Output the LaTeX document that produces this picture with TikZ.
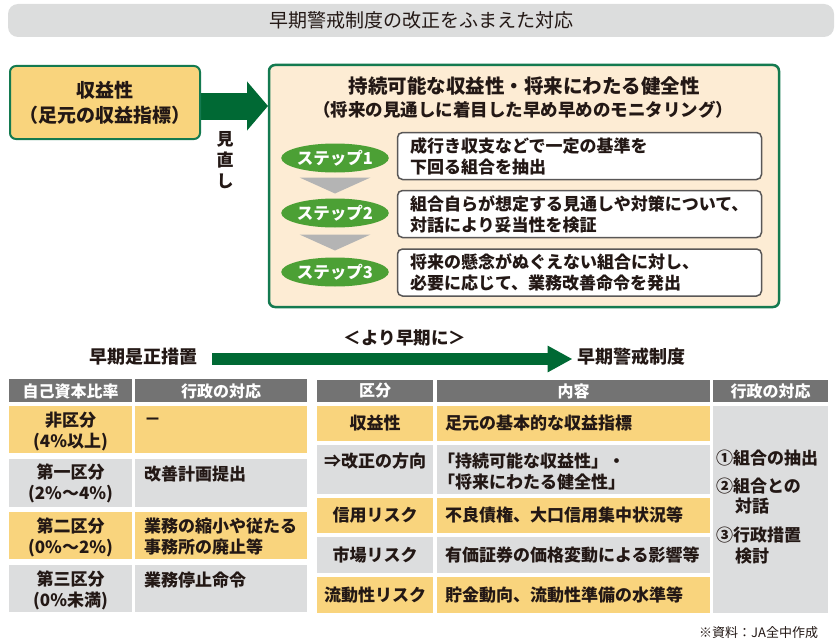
\documentclass[tikz,border=0pt]{standalone}
\usepackage{fontspec}
\setmainfont{Noto Sans CJK JP}
\newfontfamily\jpm{Noto Sans CJK JP}
\usetikzlibrary{shapes.geometric,arrows.meta,calc}
\definecolor{ink}{RGB}{35,24,21}
\definecolor{titlegray}{RGB}{220,221,221}
\definecolor{orangefill}{RGB}{249,212,125}
\definecolor{lgray}{RGB}{220,221,222}
\definecolor{hdrgray}{RGB}{115,115,115}
\definecolor{dgreen}{RGB}{0,105,52}
\definecolor{bgreen}{RGB}{20,122,80}
\definecolor{peach}{RGB}{253,236,212}
\definecolor{stepgreen}{RGB}{76,160,53}
\definecolor{trigray}{RGB}{180,180,180}
\definecolor{boxline}{RGB}{89,87,87}
\begin{document}
\begin{tikzpicture}[x=1pt,y=-1pt,
  every node/.style={inner sep=0pt, outer sep=0pt, text=ink},
  txt/.style={font=\jpm\bfseries\fontsize{17}{21}\selectfont},
  txtb/.style={font=\jpm\bfseries\fontsize{19}{25}\selectfont},
  hdr/.style={font=\jpm\bfseries\fontsize{16}{20}\selectfont, text=white},
  lboxs/.style={draw=bgreen, line width=2pt, fill=orangefill, rounded corners=6pt, minimum width=190pt, minimum height=73pt},
  rboxs/.style={draw=bgreen, line width=2.5pt, fill=peach, rounded corners=6pt, minimum width=510pt, minimum height=242pt},
  tbox/.style={draw=boxline, line width=1.5pt, fill=white, rounded corners=5pt, minimum width=364pt, minimum height=47pt},
  stepell/.style={ellipse, fill=stepgreen, minimum width=105pt, minimum height=29pt, text=white, font=\jpm\bfseries\fontsize{16.5}{16.5}\selectfont},
  bigarrow/.style={dgreen, line width=27pt, -{Triangle[length=21pt,width=48pt]}},
  midarrow/.style={dgreen, line width=12pt, -{Triangle[length=25pt,width=25pt]}}
]
\useasboundingbox (0,0) rectangle (840,642);
% title bar
\node[fill=titlegray, rounded corners=10pt, minimum width=826pt, minimum height=33pt] (titlebar) at (421,20.5) {};
\node[font=\fontsize{19}{19}\selectfont] (title) at (titlebar.center) {早期警戒制度の改正をふまえた対応};

% big arrow
\coordinate (a0) at (201,106);
\coordinate (a1) at (268,106);
\draw[bigarrow] (a0) -- (a1);

% left box
\node[lboxs] (lbox) at (105,102.5) {};
\node[txtb, align=center] (lboxt) at (lbox.center) {収益性\\（足元の収益指標）};
\node[font=\jpm\bfseries\fontsize{17}{21}\selectfont, align=center] (review) at (225,160) {見\\直\\し};

% right box
\node[rboxs] (rbox) at (524,186) {};
\node[font=\jpm\bfseries\fontsize{19.5}{19.5}\selectfont] (rt1) at (524,86) {持続可能な収益性・将来にわたる健全性};
\node[font=\jpm\bfseries\fontsize{17.5}{17.5}\selectfont] (rt2) at (523,110) {（将来の見通しに着目した早め早めのモニタリング）};

% steps
\node[stepell] (s1) at (335,158) {ステップ1};
\node[stepell] (s2) at (335,213) {ステップ2};
\node[stepell] (s3) at (335,272) {ステップ3};
\coordinate (m1) at ($(s1.south)!0.5!(s2.north)$);
\coordinate (m2) at ($(s2.south)!0.5!(s3.north)$);
\fill[trigray] ($(m1)+(-35.5,-8)$) -- ($(m1)+(35.5,-8)$) -- ($(m1)+(0,8)$) -- cycle;
\fill[trigray] ($(m2)+(-35.5,-8)$) -- ($(m2)+(35.5,-8)$) -- ($(m2)+(0,8)$) -- cycle;

\node[tbox] (b1) at (579.5,156) {};
\node[tbox] (b2) at (579.5,214) {};
\node[tbox] (b3) at (579.5,272.5) {};
\node[txt, align=left, anchor=west] (b1t) at (410,156) {成行き収支などで一定の基準を\\下回る組合を抽出};
\node[txt, align=left, anchor=west] (b2t) at (410,214) {組合自らが想定する見通しや対策について、\\対話により妥当性を検証};
\node[txt, align=left, anchor=west] (b3t) at (410,272.5) {将来の懸念がぬぐえない組合に対し、\\必要に応じて、業務改善命令を発出};

% middle arrow
\node[font=\jpm\bfseries\fontsize{18}{18}\selectfont] (early) at (143,357) {早期是正措置};
\node[font=\jpm\bfseries\fontsize{18}{18}\selectfont] (warn) at (631.5,357) {早期警戒制度};
\node[font=\jpm\bfseries\fontsize{17.5}{18}\selectfont] (sooner) at (405,338) {＜より早期に＞};
\draw[midarrow] ([xshift=15pt,yshift=-2pt]early.east) -- ([xshift=-5pt,yshift=-2pt]warn.west);

% left table
\fill[hdrgray] (9,379) rectangle (132,402);
\fill[hdrgray] (135,379) rectangle (307,402);
\node[hdr] (lh1) at (70.5,391) {自己資本比率};
\node[hdr] (lh2) at (221,391) {行政の対応};
\fill[orangefill] (9,406) rectangle (132,453);
\fill[orangefill] (135,406) rectangle (307,453);
\fill[lgray] (9,459) rectangle (132,507);
\fill[lgray] (135,459) rectangle (307,507);
\fill[orangefill] (9,512) rectangle (132,559);
\fill[orangefill] (135,512) rectangle (307,559);
\fill[lgray] (9,565) rectangle (132,612);
\fill[lgray] (135,565) rectangle (307,612);
\node[txt, align=center] (l11) at (70.5,431.5) {非区分\\(4\%以上)};
\node[txt, anchor=west] (l12) at (144,422) {－};
\node[txt, align=center] (l21) at (70.5,483.5) {第一区分\\(2\%～4\%)};
\node[txt, anchor=west] (l22) at (144,474) {改善計画提出};
\node[txt, align=center] (l31) at (70.5,537) {第二区分\\(0\%～2\%)};
\node[txt, align=left, anchor=west] (l32) at (144,537) {業務の縮小や従たる\\事務所の廃止等};
\node[txt, align=center] (l41) at (70.5,590) {第三区分\\(0\%未満)};
\node[txt, anchor=west] (l42) at (144,580) {業務停止命令};

% right table
\fill[hdrgray] (317,380) rectangle (433,402);
\fill[hdrgray] (437,380) rectangle (710,402);
\fill[hdrgray] (713,380) rectangle (828,402);
\node[hdr] (rh1) at (375,391) {区分};
\node[hdr] (rh2) at (573.5,391) {内容};
\node[hdr] (rh3) at (770.5,391) {行政の対応};
\fill[orangefill] (317,406) rectangle (433,441);
\fill[orangefill] (437,406) rectangle (710,441);
\fill[lgray] (317,445) rectangle (433,494);
\fill[lgray] (437,445) rectangle (710,494);
\fill[orangefill] (317,498) rectangle (433,533);
\fill[orangefill] (437,498) rectangle (710,533);
\fill[lgray] (317,537) rectangle (433,573);
\fill[lgray] (437,537) rectangle (710,573);
\fill[orangefill] (317,577) rectangle (433,613);
\fill[orangefill] (437,577) rectangle (710,613);
\fill[lgray] (713,406) rectangle (828,613);
\node[txt] (r11) at (375,423.5) {収益性};
\node[txt, anchor=west] (r12) at (445,423.5) {足元の基本的な収益指標};
\node[txt] (r21) at (375,461) {⇒改正の方向};
\node[txt, align=left, anchor=west] (r22) at (438,471.5) {「持続可能な収益性」・\\「将来にわたる健全性」};
\node[txt] (r31) at (375,515.5) {信用リスク};
\node[txt, anchor=west] (r32) at (445,515.5) {不良債権、大口信用集中状況等};
\node[txt] (r41) at (375,555) {市場リスク};
\node[txt, anchor=west] (r42) at (445,555) {有価証券の価格変動による影響等};
\node[txt] (r51) at (375,595) {流動性リスク};
\node[txt, anchor=west] (r52) at (445,595) {貯金動向、流動性準備の水準等};
\node[txt, anchor=west] (c1) at (716,458) {①組合の抽出};
\node[txt, anchor=west] (c2) at (716,486) {②組合との};
\node[txt, anchor=west] (c3) at (735,506) {対話};
\node[txt, anchor=west] (c4) at (716,535) {③行政措置};
\node[txt, anchor=west] (c5) at (735,556) {検討};

% source
\node[font=\fontsize{13}{13}\selectfont, anchor=east] (src) at (818,633) {※資料：JA全中作成};
\end{tikzpicture}
\end{document}
